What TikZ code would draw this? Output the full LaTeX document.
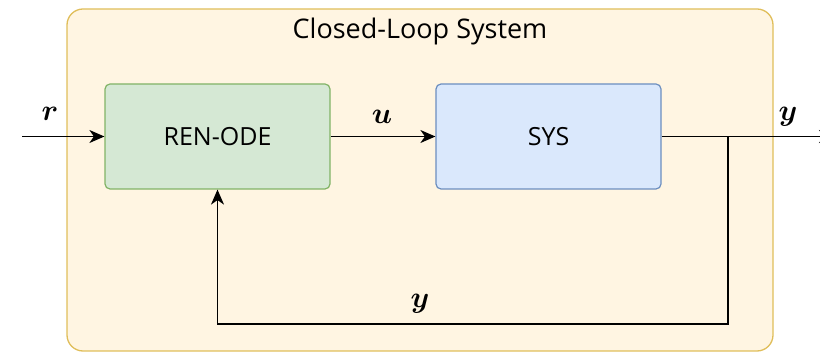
\documentclass[tikz,border=0pt]{standalone}
\usepackage{fontspec}
\usepackage{graphicx}
\usepackage{bm}
\setsansfont{Open Sans}
\usetikzlibrary{arrows.meta}
\definecolor{outerfill}{HTML}{FFF5E2}
\definecolor{outerdraw}{HTML}{E0BE5A}
\definecolor{gfill}{HTML}{D5E8D4}
\definecolor{gdraw}{HTML}{82B366}
\definecolor{bfill}{HTML}{DAE8FC}
\definecolor{bdraw}{HTML}{6C8EBF}
\newcommand{\mlab}[1]{\scalebox{1.2}{\fontsize{24.88}{30}\selectfont$\bm{#1}$}}
\tikzset{
  block/.style={draw, line width=1.2pt, rounded corners=5pt, minimum width=225pt, minimum height=105pt, font=\sffamily\fontsize{25}{30}\selectfont, inner sep=0pt},
  conn/.style={line width=1.4pt, -{Stealth[length=15pt,width=13pt,inset=4.5pt]}},
  mlabel/.style={inner sep=0pt}
}
\begin{document}
\begin{tikzpicture}[x=1pt,y=-1pt]
\useasboundingbox (0,0) rectangle (820,352);
\clip (0,0) rectangle (820,352);
\draw[fill=outerfill, draw=outerdraw, line width=1.3pt, rounded corners=16pt] (67,9) rectangle (773,351);
\node[font=\sffamily\fontsize{27}{32}\selectfont, inner sep=0pt] (title) at (420,31) {Closed-Loop System};
\node[block, fill=gfill, draw=gdraw] (ren) at (217.5,136.5) {REN-ODE};
\node[block, fill=bfill, draw=bdraw] (sys) at (548.5,136.5) {SYS};
\coordinate (in) at (22,136.5);
\coordinate (out) at (834,136.5);
\coordinate (br) at (728,136.5);
\coordinate (c1) at (728,324);
\coordinate (c2) at (ren.south |- c1);
\draw[conn] (in) -- (ren.west);
\draw[conn] (ren.east) -- (sys.west);
\draw[conn] (sys.east) -- (out);
\draw[conn] (br) -- (c1) -- (c2) -- (ren.south);
\node[mlabel] (lr) at (50,114) {\mlab{r}};
\node[mlabel] (lu) at (382,117) {\mlab{u}};
\node[mlabel] (ly) at (788,117) {\mlab{y}};
\node[mlabel] (lyb) at (420,304) {\mlab{y}};
\end{tikzpicture}
\end{document}
